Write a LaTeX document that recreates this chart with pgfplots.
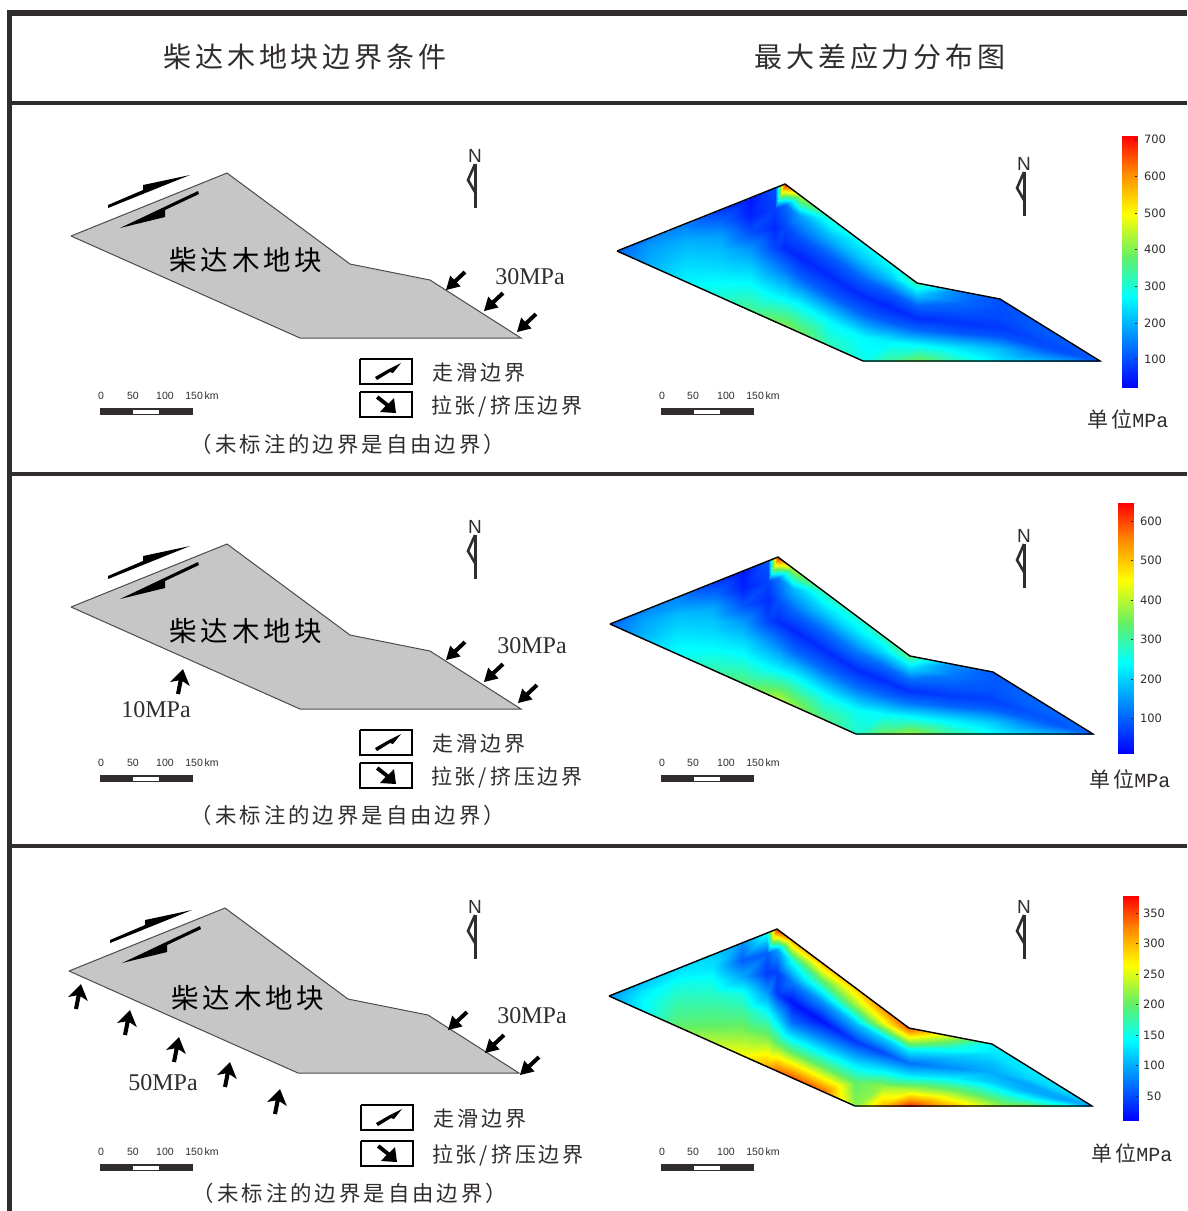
\documentclass[border=0pt]{standalone}
\usepackage{fontspec}
\usepackage{pgfplots}
\usepackage{pgfplotstable}
\pgfplotsset{compat=1.18}
\setmainfont{Liberation Sans}
\newfontfamily\cjk[LetterSpace=14]{Noto Sans CJK SC}
\newfontfamily\serifnum{Liberation Serif}
\newfontfamily\monof{Liberation Mono}
\newfontfamily\tickf{DejaVu Sans}
\definecolor{framec}{RGB}{50,45,45}
\definecolor{blockc}{RGB}{198,198,198}
\definecolor{edgec}{RGB}{75,75,75}

% x y of the mesh nodes (first panel), and stress in MPa for the three panels
\pgfplotstableread{
x y p1 p2 p3
617 251 120 100 90
617 251 120 100 90
617 251 120 100 90
617 251 120 100 90
617 251 120 100 90
617 251 120 100 90
617 251 120 100 90
650 237.8 150 130 110
650 242.0 165 145 120
650 246.2 175 155 130
650 250.4 180 160 135
650 254.6 185 165 140
650 260.2 190 170 140
650 265.8 195 180 140
685 223.9 150 130 125
685 232.5 170 150 140
685 241.2 195 180 155
685 249.8 210 195 165
685 258.4 225 210 175
685 269.9 245 230 185
685 281.4 260 245 200
720 209.9 80 65 120
720 223.0 130 115 130
720 236.0 180 165 150
720 249.1 205 190 165
720 262.2 225 210 180
720 279.6 265 250 200
720 297.0 305 290 235
750 198.0 45 30 85
750 214.9 55 40 60
750 231.8 100 85 100
750 248.6 170 150 155
750 265.5 220 200 180
750 288.0 285 260 215
750 310.5 350 330 265
775 188.0 100 90 150
775 208.0 85 70 60
775 228.1 65 50 40
775 248.1 90 70 90
775 268.2 160 145 150
775 294.9 265 240 220
775 321.6 390 375 310
785 184.0 700 640 370
785 205.3 125 120 90
785 226.6 95 85 45
785 247.9 65 50 40
785 269.3 135 120 110
785 297.7 265 240 200
785 326.1 400 395 340
800 195.3 450 400 310
800 215.9 180 175 150
800 236.6 110 105 75
800 257.2 60 45 20
800 277.8 120 105 70
800 305.3 270 250 190
800 332.8 385 375 350
830 217.8 300 285 300
830 237.1 205 200 190
830 256.3 115 110 90
830 275.6 65 50 20
830 294.8 115 105 90
830 320.5 265 240 200
830 346.2 320 320 340
863 242.5 270 270 290
863 260.3 215 210 220
863 278.1 125 120 110
863 295.8 65 50 40
863 313.6 120 110 110
863 337.3 265 245 200
863 361.0 285 275 215
890 262.8 280 285 320
890 277.5 215 210 250
890 292.3 115 110 120
890 307.0 60 50 50
890 321.7 115 105 120
890 341.4 260 240 220
890 361.0 340 345 300
917 283.0 330 320 345
917 294.7 215 205 240
917 306.4 120 110 130
917 318.1 70 55 70
917 329.8 125 115 130
917 345.4 270 250 240
917 361.0 390 380 365
960 291.3 150 140 240
960 301.8 130 120 160
960 312.2 105 95 110
960 322.7 75 65 85
960 333.1 110 100 135
960 347.1 240 220 220
960 361.0 310 300 300
1000 299.0 100 90 140
1000 308.3 100 90 130
1000 317.6 95 85 110
1000 326.9 80 70 100
1000 336.2 105 95 115
1000 348.6 205 190 175
1000 361.0 245 240 235
1035 320.7 110 100 130
1035 326.7 110 100 130
1035 332.8 105 95 120
1035 338.8 95 85 95
1035 344.9 105 100 100
1035 352.9 155 145 145
1035 361.0 215 200 210
1070 342.4 115 105 130
1070 345.2 110 100 125
1070 348.0 105 95 115
1070 350.8 100 90 100
1070 353.6 105 95 95
1070 357.3 135 125 125
1070 361.0 180 170 170
1100 361 115 105 100
1100 361 115 105 100
1100 361 115 105 100
1100 361 115 105 100
1100 361 115 105 100
1100 361 115 105 100
1100 361 115 105 100
}\heatdata

\pgfplotstableread{
x y
617 251
785 184
917 283
1000 299
1100 361
863 361
617 251
}\heatedge

\pgfplotstableread{
x y
71 236
227 173
350 264
430 280
521 338
300 338
71 236
}\block

\pgfplotstableread{
x y
0 0
14.6 -3.6
10.8 -7.6
20.4 -16.6
17.6 -19.4
8 -10.4
4.2 -14.4
}\arrowSW

\pgfplotstableread{
x y
0 0
6.8 17
-0.4 12.3
-3 25.4
-7 24.6
-4.4 11.4
-12.8 13
}\arrowN

\pgfplotstableread{
x y
108 205
143 190
143 185
190 175
108 208
}\slipA

\pgfplotstableread{
x y
120 228
198 191
199 194
165 210
165 217
}\slipB

\pgfplotstableread{
x y
375 377
389 369
401 363
393 373
390 372
377 380
}\iconslip

\pgfplotstableread{
x y
396 413
380 412
385.5 406
376 398.5
378.5 395.5
388.5 403.5
394 398
}\iconpress

\pgfplotstableread{
x y
0 8
-7 24
0 36
}\northside

\pgfplotstableread{
x y
0 8
0 52
}\northstem

\pgfplotstableread{
x y
0 0
93 0
93 7
0 7
}\barblack

\pgfplotstableread{
x y
33 2
59 2
59 5.5
33 5.5
}\barwhite

\pgfplotstableread{
x y
360 359
412 359
412 384
360 384
360 359
}\boxA

\pgfplotsset{
 colormap={rb}{rgb255(0pt)=(0,0,255); rgb255(36pt)=(0,255,255); rgb255(52pt)=(100,240,100); rgb255(69pt)=(255,255,0); rgb255(85pt)=(255,140,0); rgb255(100pt)=(255,0,0)},
 pagebox/.style={scale only axis, width=1187pt, height=1211pt, xmin=0, xmax=1187, ymin=0, ymax=1211, y dir=reverse, hide axis, clip=false, anchor=north west, at={(0pt,0pt)}},
}
\newcommand{\shape}[4][black]{\addplot[fill=#1,draw=none,forget plot] table[x expr=\thisrow{x}+#3, y expr=\thisrow{y}+#4] #2;}
\newcommand{\outline}[4][black]{\addplot[draw=#1,no marks,line width=2pt,forget plot] table[x expr=\thisrow{x}+#3, y expr=\thisrow{y}+#4] #2;}
\newcommand{\north}[2]{%
 \node[font=\fontsize{19}{19}\selectfont,text=framec] at (axis cs:#1,#2) {N};
 \addplot[draw=framec,line width=2.6pt,no marks,forget plot] table[x expr=\thisrow{x}+#1, y expr=\thisrow{y}+#2] \northside;
 \addplot[draw=framec,line width=3pt,no marks,forget plot] table[x expr=\thisrow{x}+#1, y expr=\thisrow{y}+#2] \northstem;
}
\newcommand{\scalebar}[6]{% x0 ybar, label xs
 \shape[framec]{\barblack}{#1}{#2}
 \shape[white]{\barwhite}{#1}{#2}
 \node[font=\fontsize{10.5}{10}\selectfont,text=framec] at (axis cs:#3,#2-12) {0};
 \node[font=\fontsize{10.5}{10}\selectfont,text=framec] at (axis cs:#4,#2-12) {50};
 \node[font=\fontsize{10.5}{10}\selectfont,text=framec] at (axis cs:#5,#2-12) {100};
 \node[font=\fontsize{10.5}{10}\selectfont,text=framec] at (axis cs:#6,#2-12) {150\,km};
}
\newcommand{\leftpanel}[4]{% block offset, slip offset
 \addplot[fill=blockc,draw=edgec,line width=1pt,forget plot] table[x expr=\thisrow{x}+#1, y expr=\thisrow{y}+#2] \block;
 \shape{\slipA}{#3}{#4}
 \shape{\slipB}{#3}{#4}
}
\newcommand{\legendA}[2]{%
 \outline{\boxA}{#1}{#2}
 \shape{\iconslip}{#1}{#2}
 \node[font=\cjk\fontsize{21}{21}\selectfont,text=framec] at (axis cs:479+#1,372.5+#2) {走滑边界};
}
\newcommand{\legendB}[2]{%
 \outline{\boxA}{#1}{33+#2}
 \shape{\iconpress}{#1}{#2}
 \node[font=\cjk\fontsize{21}{21}\selectfont,text=framec] at (axis cs:507+#1,406.5+#2) {拉张/挤压边界};
}
\newcommand{\noteline}[2]{\node[font=\cjk\fontsize{21.4}{22}\selectfont,text=framec] at (axis cs:#1,#2) {（未标注的边界是自由边界）};}
\newcommand{\blocklabel}[2]{\node[font=\cjk\fontsize{27.5}{28}\selectfont,text=black] at (axis cs:#1,#2) {柴达木地块};}
\newcommand{\mpa}[3]{\node[font=\serifnum\fontsize{24}{24}\selectfont,text=framec] at (axis cs:#1,#2) {#3};}
\newcommand{\unitlabel}[2]{\node[text=framec] at (axis cs:#1,#2) {{\cjk\fontsize{21}{21}\selectfont 单位}{\monof\fontsize{20}{20}\selectfont MPa}};}
\newcommand{\heatpanel}[5]{% column, dx, dy, metamin, metamax
\begin{axis}[pagebox, view={0}{90}, zmin=-1, zmax=1, colormap name=rb, point meta min=#4, point meta max=#5]
 \addplot3[surf, shader=interp, mesh/rows=17, mesh/cols=7, point meta=\thisrow{#1}] table[x expr=\thisrow{x}+#2, y expr=\thisrow{y}+#3, z expr=0] \heatdata;
\end{axis}
\begin{axis}[pagebox]
 \addplot[draw=black, line width=1.4pt, no marks] table[x expr=\thisrow{x}+#2, y expr=\thisrow{y}+#3] \heatedge;
\end{axis}}
\newcommand{\tlabel}[3]{\node[font=\tickf\fontsize{11.5}{12}\selectfont,text=framec] at (axis cs:#1,#2) {#3};}
\newcommand{\cbtick}[2]{\addplot[draw=framec,line width=0.8pt,no marks,forget plot] coordinates {(#1,#2) (#1+2.5,#2)};}

\pgfplotstableread{
x y c
1122 136 708
1137 136 708
1122 387 25
1137 387 25
}\barone
\pgfplotstableread{
x y c
1118 503 646
1133 503 646
1118 753 11
1133 753 11
}\bartwo
\pgfplotstableread{
x y c
1123 896 378
1138 896 378
1123 1120 11
1138 1120 11
}\barthree

\begin{document}
\begin{tikzpicture}[x=1pt,y=1pt]
\useasboundingbox (0pt,0pt) rectangle (1187pt,-1211pt);
\begin{axis}[pagebox]
 \addplot[fill=white,draw=none,forget plot] coordinates {(0,0) (1187,0) (1187,1211) (0,1211)};
 \addplot[draw=framec,line width=6pt,no marks] coordinates {(7,13) (1187,13)};
 \addplot[draw=framec,line width=5pt,no marks] coordinates {(9,10) (9,1211)};
 \addplot[draw=framec,line width=4pt,no marks] coordinates {(9,102.5) (1187,102.5)};
 \addplot[draw=framec,line width=4pt,no marks] coordinates {(9,474) (1187,474)};
 \addplot[draw=framec,line width=4pt,no marks] coordinates {(9,846) (1187,846)};
 \node[font=\cjk\fontsize{28}{28}\selectfont,text=framec] at (axis cs:305,57) {柴达木地块边界条件};
 \node[font=\cjk\fontsize{28}{28}\selectfont,text=framec] at (axis cs:880,57) {最大差应力分布图};
 % left panel 1
 \leftpanel{0}{0}{0}{0}
 \blocklabel{246}{260}
 \shape{\arrowSW}{446}{290}
 \shape{\arrowSW}{484}{311}
 \shape{\arrowSW}{517}{332}
 \mpa{530}{277}{30MPa}
 \north{475}{156}
 \scalebar{100}{408}{101}{133}{165}{202}
 \legendA{0}{0}
 \legendB{0}{0}
 \noteline{348}{444}
 % left panel 2
 \leftpanel{0}{371}{0}{371}
 \blocklabel{246}{631}
 \shape{\arrowSW}{446}{660}
 \shape{\arrowSW}{484}{682}
 \shape{\arrowSW}{518}{703}
 \shape{\arrowN}{183}{669}
 \mpa{532}{646}{30MPa}
 \mpa{156}{710}{10MPa}
 \north{475}{527}
 \scalebar{100}{775}{101}{133}{165}{202}
 \legendA{0}{371}
 \legendB{0}{371}
 \noteline{348}{815}
 % left panel 3
 \leftpanel{-2}{735}{2}{735}
 \blocklabel{248}{998}
 \shape{\arrowSW}{448}{1030}
 \shape{\arrowSW}{485}{1053}
 \shape{\arrowSW}{520}{1075}
 \shape{\arrowN}{81}{984}
 \shape{\arrowN}{130}{1010}
 \shape{\arrowN}{179}{1037}
 \shape{\arrowN}{230}{1062}
 \shape{\arrowN}{280}{1089}
 \mpa{532}{1016}{30MPa}
 \mpa{163}{1083}{50MPa}
 \north{475}{907}
 \scalebar{100}{1164}{101}{133}{165}{202}
 \legendA{1}{746}
 \legendB{1}{749}
 \noteline{350}{1193}
 % right panel furniture
 \north{1024}{164}
 \north{1024}{536}
 \north{1024}{907}
 \scalebar{661}{408}{662}{693}{726}{763}
 \scalebar{661}{775}{662}{693}{726}{763}
 \scalebar{661}{1164}{662}{693}{726}{763}
 \unitlabel{1128}{419}
 \unitlabel{1130}{779}
 \unitlabel{1132}{1153}
 \tlabel{1155}{139}{700}
 \tlabel{1155}{176}{600}
 \tlabel{1155}{213}{500}
 \tlabel{1155}{249.5}{400}
 \tlabel{1155}{286}{300}
 \tlabel{1155}{323}{200}
 \tlabel{1155}{359.5}{100}
 \tlabel{1151}{521}{600}
 \tlabel{1151}{560}{500}
 \tlabel{1151}{600}{400}
 \tlabel{1151}{639}{300}
 \tlabel{1151}{679}{200}
 \tlabel{1151}{718}{100}
 \tlabel{1154}{913}{350}
 \tlabel{1154}{943}{300}
 \tlabel{1154}{974}{250}
 \tlabel{1154}{1004}{200}
 \tlabel{1154}{1035}{150}
 \tlabel{1154}{1065}{100}
 \tlabel{1154}{1096}{50}
\end{axis}
\heatpanel{p1}{0}{0}{25}{708}
\heatpanel{p2}{-7}{373}{11}{646}
\heatpanel{p3}{-8}{745}{11}{378}
\begin{axis}[pagebox, view={0}{90}, zmin=-1, zmax=1, colormap name=rb, point meta min=25, point meta max=708]
 \addplot3[surf, shader=interp, mesh/rows=2, mesh/cols=2, point meta=\thisrow{c}] table[x=x, y=y, z expr=0] \barone;
\end{axis}
\begin{axis}[pagebox, view={0}{90}, zmin=-1, zmax=1, colormap name=rb, point meta min=11, point meta max=646]
 \addplot3[surf, shader=interp, mesh/rows=2, mesh/cols=2, point meta=\thisrow{c}] table[x=x, y=y, z expr=0] \bartwo;
\end{axis}
\begin{axis}[pagebox, view={0}{90}, zmin=-1, zmax=1, colormap name=rb, point meta min=11, point meta max=378]
 \addplot3[surf, shader=interp, mesh/rows=2, mesh/cols=2, point meta=\thisrow{c}] table[x=x, y=y, z expr=0] \barthree;
\end{axis}
\begin{axis}[pagebox]
 \cbtick{1134.5}{139}\cbtick{1134.5}{176}\cbtick{1134.5}{213}\cbtick{1134.5}{249.5}\cbtick{1134.5}{286}\cbtick{1134.5}{323}\cbtick{1134.5}{359.5}
 \cbtick{1130.5}{521}\cbtick{1130.5}{560}\cbtick{1130.5}{600}\cbtick{1130.5}{639}\cbtick{1130.5}{679}\cbtick{1130.5}{718}
 \cbtick{1135.5}{913}\cbtick{1135.5}{943}\cbtick{1135.5}{974}\cbtick{1135.5}{1004}\cbtick{1135.5}{1035}\cbtick{1135.5}{1065}\cbtick{1135.5}{1096}
\end{axis}
\end{tikzpicture}
\end{document}
